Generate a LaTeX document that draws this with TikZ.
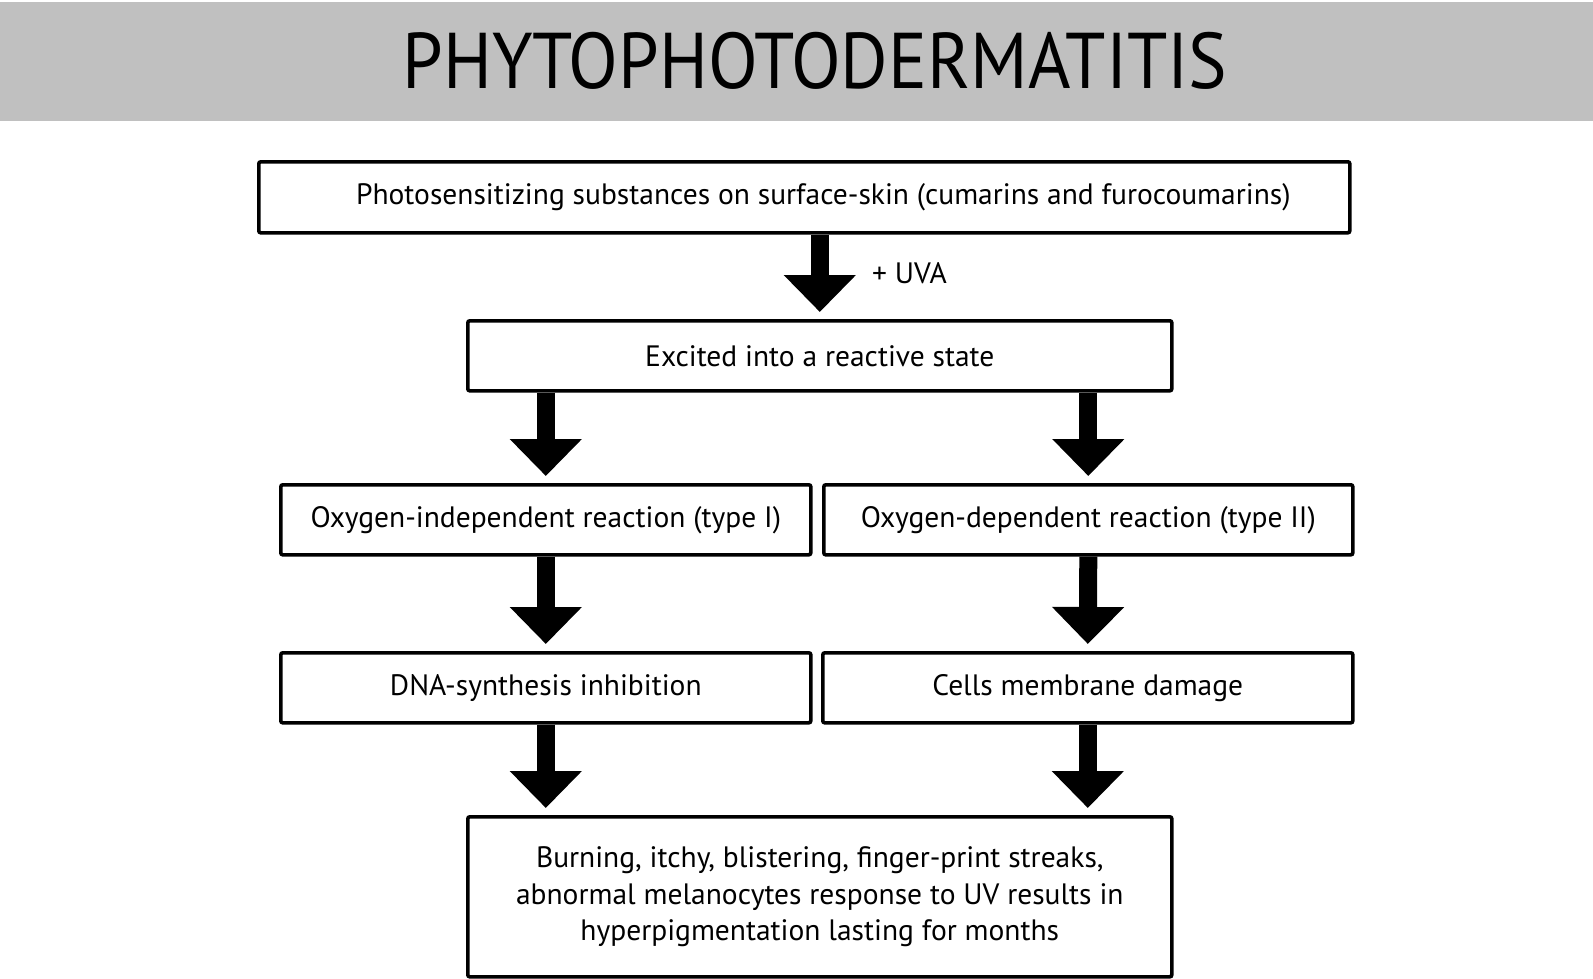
\documentclass[tikz,border=0pt]{standalone}
\usepackage{fontspec}
\setmainfont[FakeStretch=1.0]{PT Sans}
\newfontfamily\titlefont[FakeStretch=0.92]{PT Sans}
\usetikzlibrary{arrows.meta}
\definecolor{bandgray}{HTML}{C0C0C0}
\begin{document}
\begin{tikzpicture}[x=1pt,y=-1pt,
  flowbox/.style={draw=black, line width=3.6pt, rounded corners=2pt, anchor=north west, inner sep=0pt, align=center, font=\fontsize{29.5}{36.5}\selectfont},
  fatarrow/.style={line width=18pt, shorten >=7pt, -{Triangle[width=70pt,length=37pt]}}]
\useasboundingbox (0,0) rectangle (1593,978);
\fill[bandgray] (0,2) rectangle (1593,121);
\node[font=\titlefont\fontsize{79}{79}\selectfont] (title) at (815,61) {PHYTOPHOTODERMATITIS};

\node[flowbox, minimum width=1091pt, minimum height=71pt] (b1) at (257,160) {\hspace*{38pt}Photosensitizing substances on surface-skin (cumarins and furocoumarins)};
\node[flowbox, minimum width=704pt, minimum height=70pt] (b2) at (466,319) {Excited into a reactive state};
\node[flowbox, minimum width=530pt, minimum height=70pt] (b3l) at (279,483) {Oxygen-independent reaction (type I)};
\node[flowbox, minimum width=529pt, minimum height=70pt] (b3r) at (822,483) {Oxygen-dependent reaction (type II)};
\node[flowbox, minimum width=530pt, minimum height=70pt] (b4l) at (279,651) {DNA-synthesis inhibition};
\node[flowbox, minimum width=530pt, minimum height=70pt] (b4r) at (821,651) {Cells membrane damage};
\node[flowbox, minimum width=704pt, minimum height=160pt] (b5) at (466,815) {Burning, itchy, blistering, finger-print streaks,\\abnormal melanocytes response to UV results in\\hyperpigmentation lasting for months};

\draw[fatarrow] (b1.south -| b2.north) -- (b2.north) node[pos=0.46, right=40pt, font=\fontsize{29.5}{30}\selectfont] (uva) {+ UVA};
\draw[fatarrow] (b2.south -| b3l.north) -- (b3l.north);
\draw[fatarrow] (b2.south -| b3r.north) -- (b3r.north);
\draw[fatarrow] (b3l.south) -- (b4l.north);
\draw[fatarrow] (b3r.south) -- (b4r.north);
\draw[fatarrow] (b4l.south) -- (b5.north -| b4l.south);
\draw[fatarrow] (b4r.south) -- (b5.north -| b4r.south);
\end{tikzpicture}
\end{document}
